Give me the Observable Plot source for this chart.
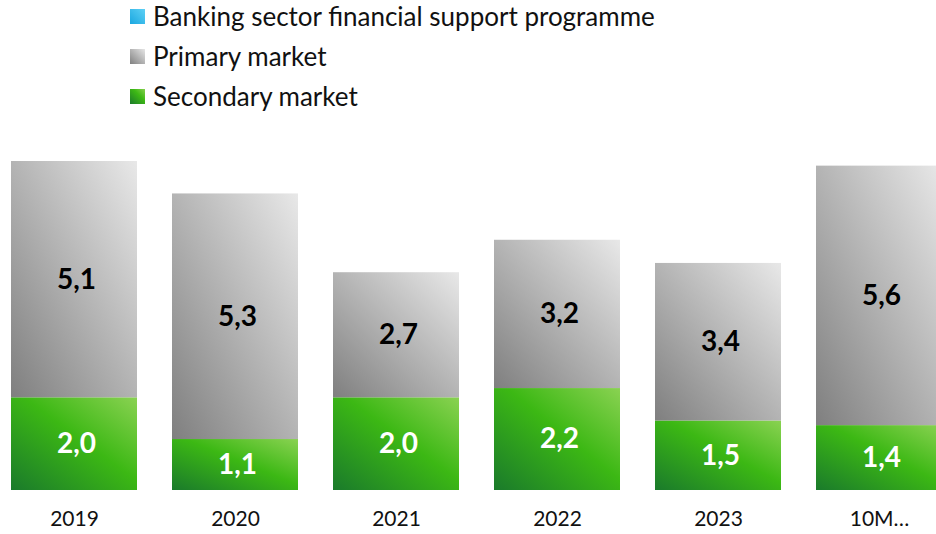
<!DOCTYPE html>
<html><head><meta charset="utf-8">
<script src="https://cdn.jsdelivr.net/npm/d3@7"></script>
<script src="https://cdn.jsdelivr.net/npm/@observablehq/plot@0.6"></script>
<style>
html,body{margin:0;padding:0;background:#fff;overflow:hidden;}
body{font-family:Lato, "Open Sans", sans-serif;}
#legend{position:relative;height:125px;width:936px;}
.item{position:absolute;left:130px;height:30px;display:flex;align-items:center;font-size:26px;color:#111;white-space:nowrap;}
.sw{width:15px;height:15px;margin-right:8px;flex:none;}
#chart svg{display:block;overflow:hidden;}
</style></head><body>
<div id="legend"></div>
<div id="chart"></div>
<script>
const categories = ["2019", "2020", "2021", "2022", "2023", "10M…"];
const bankingSupport = [0, 0, 0, 0, 0, 0];
const primaryMarket = [5.1, 5.3, 2.7, 3.2, 3.4, 5.6];
const secondaryMarket = [2.0, 1.1, 2.0, 2.2, 1.5, 1.4];
const seriesNames = ["Banking sector financial support programme", "Primary market", "Secondary market"];
const legendSwatches = [
  "linear-gradient(45deg,#1aa7e0,#5ed0f5)",
  "linear-gradient(45deg,#808080,#e6e6e6)",
  "linear-gradient(45deg,#1b7a2a,#3db815 60%,#86d04e)"
];

// legend
const legend = document.getElementById("legend");
seriesNames.forEach((name, i) => {
  const it = document.createElement("div");
  it.className = "item";
  it.style.top = (1 + i * 40) + "px";
  const sw = document.createElement("span");
  sw.className = "sw";
  sw.style.background = legendSwatches[i];
  const tx = document.createElement("span");
  tx.textContent = name;
  it.appendChild(sw); it.appendChild(tx);
  legend.appendChild(it);
});

// stacked rows
const rows = [];
categories.forEach((c, i) => {
  const s = secondaryMarket[i], p = primaryMarket[i], b = bankingSupport[i];
  rows.push({cat: c, series: "Secondary market", y1: 0, y2: s, v: s});
  rows.push({cat: c, series: "Primary market", y1: s, y2: s + p, v: p});
  rows.push({cat: c, series: seriesNames[0], y1: s + p, y2: s + p + b, v: b});
});
const fmt = v => v.toFixed(1).replace(".", ",");

const defs = () => {
  const ns = "http://www.w3.org/2000/svg";
  const d = document.createElementNS(ns, "defs");
  d.innerHTML = `
    <linearGradient id="gGrey" x1="0" y1="1" x2="1" y2="0">
      <stop offset="0" stop-color="#7f7f7f"/>
      <stop offset="1" stop-color="#e8e8e8"/>
    </linearGradient>
    <linearGradient id="gGreen" x1="0" y1="1" x2="1" y2="0">
      <stop offset="0" stop-color="#1a7a2b"/>
      <stop offset="0.55" stop-color="#3cb814"/>
      <stop offset="1" stop-color="#8ad252"/>
    </linearGradient>
    <linearGradient id="gBlue" x1="0" y1="1" x2="1" y2="0">
      <stop offset="0" stop-color="#1aa7e0"/>
      <stop offset="1" stop-color="#5ed0f5"/>
    </linearGradient>
    <filter id="shadow" x="-10%" y="-10%" width="130%" height="130%">
      <feDropShadow dx="1.5" dy="1.5" stdDeviation="1.5" flood-color="#000" flood-opacity="0.25"/>
    </filter>`;
  return d;
};

const fills = {"Secondary market": "url(#gGreen)", "Primary market": "url(#gGrey)"};
fills[seriesNames[0]] = "url(#gBlue)";

const barMarks = Object.keys(fills).map(s =>
  Plot.barY(rows.filter(d => d.series === s && d.v > 0), {
    x: "cat", y1: "y1", y2: "y2", fill: fills[s], inset: 0,
    style: {filter: "url(#shadow)"}
  })
);

const chart = Plot.plot({
  width: 936,
  height: 409,
  marginLeft: 0, marginRight: 0, marginTop: 36, marginBottom: 44,
  x: {domain: categories, range: [-6.5, 959.5], paddingInner: 35 / 161, paddingOuter: 17.5 / 161, align: 0.5, label: null},
  y: {domain: [0, 7.1], axis: null},
  style: {fontFamily: "Lato, 'Open Sans', sans-serif", background: "#fff", overflow: "hidden"},
  marks: [
    defs,
    ...barMarks,
    Plot.text(rows.filter(d => d.v > 0), {
      x: "cat", y: d => (d.y1 + d.y2) / 2, text: d => fmt(d.v), dx: 2,
      fill: d => d.series === "Secondary market" ? "#fff" : "#000",
      fontSize: 28, fontWeight: "bold"
    }),
    Plot.axisX({tickSize: 0, tickPadding: 21, fontSize: 21, fill: "#111", label: null})
  ]
});
document.getElementById("chart").appendChild(chart);
</script>
</body></html>
